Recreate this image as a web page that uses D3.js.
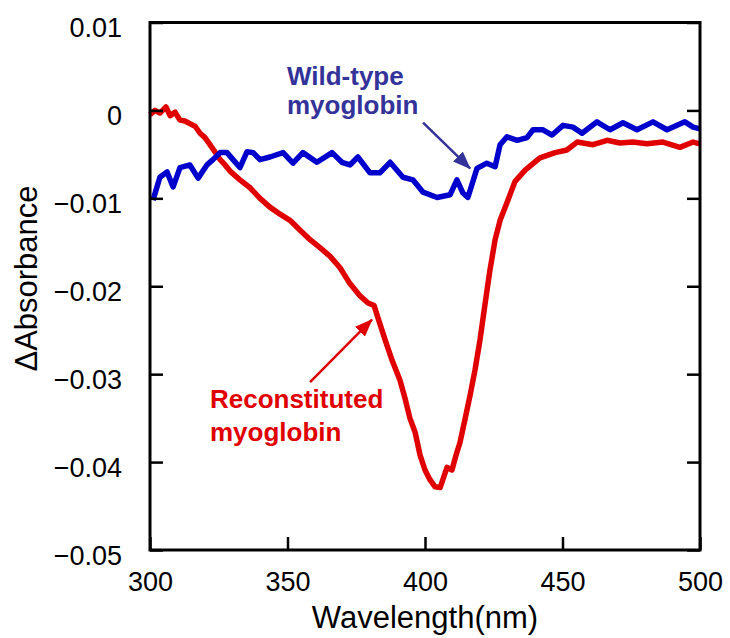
<!DOCTYPE html>
<html>
<head>
<meta charset="utf-8">
<script src="https://cdn.jsdelivr.net/npm/d3@7"></script>
<style>
  body { margin: 0; background: #fff; }
  text { font-family: Arial, "Liberation Sans", sans-serif; }
</style>
</head>
<body>
<svg id="chart" width="730" height="638"></svg>
<script>
// reconstituted myoglobin, [wavelength nm, delta absorbance]
var reconstituted = [
  [300, -0.0005], [301.8, 0], [303.6, -0.0003], [305.8, 0.0004], [307.3, -0.0006],
  [309.1, -0.0002], [310.9, -0.0011], [312.7, -0.0012], [314.5, -0.0015], [316.4, -0.0018],
  [318.2, -0.0026], [320, -0.0031], [321.8, -0.0039], [323.6, -0.0047], [325.5, -0.0056],
  [327.3, -0.0062], [329.1, -0.0069], [332.7, -0.0079], [336.4, -0.0088], [340, -0.0100],
  [343.6, -0.0110], [347.3, -0.0118], [350.9, -0.0125], [354.5, -0.0136], [358.2, -0.0147],
  [361.8, -0.0156], [365.5, -0.0166], [369.1, -0.0179], [372.7, -0.0197], [376.4, -0.0211],
  [379.3, -0.0219], [381.5, -0.0222], [382.9, -0.0236], [385.5, -0.0261], [388, -0.0284],
  [390.9, -0.0307], [392.7, -0.0327], [394.5, -0.0350], [396.4, -0.0366], [398.2, -0.0392],
  [400, -0.0409], [401.8, -0.0420], [403.6, -0.0428], [405.5, -0.0429], [406.5, -0.0420],
  [408, -0.0406], [409.8, -0.0409], [411.3, -0.0392], [412.7, -0.0378], [414.5, -0.0352],
  [416.4, -0.0324], [418.2, -0.0295], [420, -0.0261], [421.8, -0.0221], [423.6, -0.0182],
  [425.5, -0.0147], [427.3, -0.0125], [429.8, -0.0105], [432.7, -0.0081], [436.4, -0.0068],
  [441.8, -0.0054], [447.3, -0.0048], [451.6, -0.0045], [455.3, -0.0036], [461.1, -0.0039],
  [466.2, -0.0034], [470.9, -0.0037], [475.6, -0.0036], [480.7, -0.0038], [486.5, -0.0036],
  [492.7, -0.0042], [497.5, -0.0036], [500, -0.0038]
];

// wild-type myoglobin
var wildType = [
  [301.1, -0.0102], [303.6, -0.0076], [306.2, -0.0070], [308.4, -0.0087], [310.9, -0.0065],
  [314.5, -0.0062], [317.5, -0.0077], [320.7, -0.0062], [322.9, -0.0056], [325.5, -0.0048],
  [328, -0.0048], [330.2, -0.0056], [332.7, -0.0065], [335.3, -0.0047], [337.5, -0.0048],
  [340, -0.0056], [343.6, -0.0053], [348.4, -0.0048], [352, -0.0060], [355.6, -0.0048],
  [360.7, -0.0059], [366.2, -0.0048], [369.8, -0.0059], [372.7, -0.0062], [375.6, -0.0053],
  [380, -0.0071], [383.6, -0.0071], [387.3, -0.0059], [392, -0.0076], [395.6, -0.0079],
  [399.3, -0.0093], [404.4, -0.0099], [409.1, -0.0096], [411.6, -0.0079], [413.8, -0.0094],
  [415.6, -0.0099], [418.9, -0.0066], [422.5, -0.0060], [425.5, -0.0064], [427.3, -0.0039],
  [429.8, -0.0030], [433.5, -0.0034], [437.1, -0.0031], [439.3, -0.0022], [442.9, -0.0022],
  [446.2, -0.0028], [450.2, -0.0017], [453.8, -0.0019], [457.1, -0.0026], [462.5, -0.0013],
  [467.3, -0.0022], [472, -0.0014], [477.1, -0.0022], [482.9, -0.0013], [488, -0.0022],
  [494.5, -0.0013], [497.5, -0.0019], [500, -0.0021]
];

var xTicks = [300, 350, 400, 450, 500];
var yTicks = [0.01, 0, -0.01, -0.02, -0.03, -0.04, -0.05];
var yTickLabels = ['0.01', '0', '\u22120.01', '\u22120.02', '\u22120.03', '\u22120.04', '\u22120.05'];

var margin = {top: 22.5, right: 30, bottom: 88, left: 150},
    width = 730 - margin.left - margin.right,
    height = 638 - margin.top - margin.bottom;

var x = d3.scaleLinear().domain([300, 500]).range([0, width]);
var y = d3.scaleLinear().domain([-0.05, 0.01]).range([height, 0]);

var svg = d3.select('#chart');

var defs = svg.append('defs');
function arrowMarker(id, color) {
  defs.append('marker')
    .attr('id', id)
    .attr('markerUnits', 'userSpaceOnUse')
    .attr('viewBox', '0 0 18 14')
    .attr('refX', 17).attr('refY', 7)
    .attr('markerWidth', 18).attr('markerHeight', 14)
    .attr('orient', 'auto')
  .append('path')
    .attr('d', 'M0,0 L18,7 L0,14 Z')
    .attr('fill', color);
}
arrowMarker('head-blue', '#333399');
arrowMarker('head-red', '#e00000');

var chart = svg.append('g')
  .attr('transform', 'translate(' + margin.left + ',' + margin.top + ')');

// spectra
var line = d3.line()
  .x(function(d) { return x(d[0]); })
  .y(function(d) { return y(d[1]); });

chart.append('path')
  .datum(reconstituted)
  .attr('d', line)
  .attr('fill', 'none')
  .attr('stroke', '#e00000')
  .attr('stroke-width', 5.5)
  .attr('stroke-linejoin', 'round');

chart.append('path')
  .datum(wildType)
  .attr('d', line)
  .attr('fill', 'none')
  .attr('stroke', '#0000cc')
  .attr('stroke-width', 5.5)
  .attr('stroke-linejoin', 'round');

// axes, ticks point inward
var tickLen = 13;
var bottomAxis = d3.axisBottom(x).tickValues(xTicks).tickSizeInner(-tickLen).tickSizeOuter(0).tickPadding(0);
var leftAxis = d3.axisLeft(y).tickValues(yTicks).tickSizeInner(-tickLen).tickSizeOuter(0)
  .tickFormat(function(d, i) { return yTickLabels[i]; });
var rightAxis = d3.axisRight(y).tickValues(yTicks).tickSizeInner(-tickLen).tickSizeOuter(0)
  .tickFormat('');

var gx = chart.append('g')
  .attr('transform', 'translate(0,' + height + ')')
  .call(bottomAxis);
gx.selectAll('text')
  .attr('y', 41).attr('dy', 0)
  .style('font-size', '27px').attr('fill', '#000');

var gy = chart.append('g').call(leftAxis);
gy.selectAll('text')
  .attr('x', -28).attr('y', 14).attr('dy', 0)
  .style('font-size', '27px').attr('fill', '#000');

chart.append('g')
  .attr('transform', 'translate(' + width + ',0)')
  .call(rightAxis);

chart.selectAll('.tick line').attr('stroke', '#000').attr('stroke-width', 2.5);
chart.selectAll('.domain').remove();

// frame
chart.append('rect')
  .attr('width', width).attr('height', height)
  .attr('fill', 'none').attr('stroke', '#000').attr('stroke-width', 3);

// axis titles
svg.append('text')
  .attr('x', margin.left + width / 2)
  .attr('y', 628)
  .attr('text-anchor', 'middle')
  .style('font-size', '31px')
  .text('Wavelength(nm)');

svg.append('text')
  .attr('transform', 'translate(37,' + (margin.top + 256) + ') rotate(-90)')
  .attr('text-anchor', 'middle')
  .style('font-size', '31px')
  .text('\u0394Absorbance');

// annotations
var blueLabel = chart.append('text')
  .attr('x', x(349.8)).attr('y', y(0.0029))
  .attr('fill', '#333399')
  .style('font-size', '26px').style('font-weight', 'bold');
blueLabel.append('tspan').text('Wild-type');
blueLabel.append('tspan').attr('x', x(349.8)).attr('dy', 29).text('myoglobin');

chart.append('line')
  .attr('x1', x(399.3)).attr('y1', y(-0.0014))
  .attr('x2', x(416.4)).attr('y2', y(-0.0066))
  .attr('stroke', '#333399').attr('stroke-width', 2.5)
  .attr('marker-end', 'url(#head-blue)');

var redLabel = chart.append('text')
  .attr('x', x(321.8)).attr('y', y(-0.03385))
  .attr('fill', '#e00000')
  .style('font-size', '26px').style('font-weight', 'bold');
redLabel.append('tspan').text('Reconstituted');
redLabel.append('tspan').attr('x', x(321.8)).attr('dy', 33).text('myoglobin');

chart.append('line')
  .attr('x1', x(358.2)).attr('y1', y(-0.0309))
  .attr('x2', x(380.7)).attr('y2', y(-0.0238))
  .attr('stroke', '#e00000').attr('stroke-width', 2.5)
  .attr('marker-end', 'url(#head-red)');
</script>
</body>
</html>
